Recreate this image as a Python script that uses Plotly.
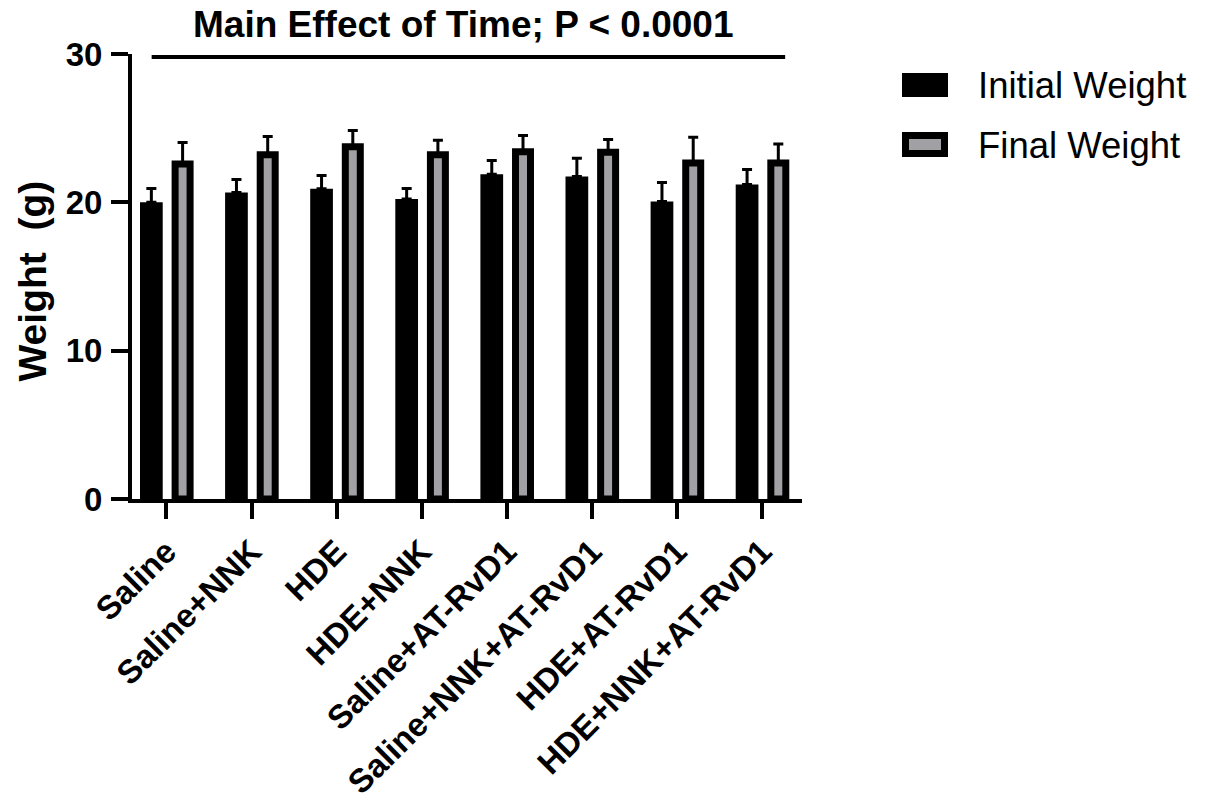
import plotly.graph_objects as go

categories = ["Saline", "Saline+NNK", "HDE", "HDE+NNK", "Saline+AT-RvD1",
              "Saline+NNK+AT-RvD1", "HDE+AT-RvD1", "HDE+NNK+AT-RvD1"]
initial_weight = [20.0, 20.67, 20.92, 20.22, 21.9, 21.74, 20.05, 21.2]
initial_err = [0.94, 0.87, 0.89, 0.72, 0.92, 1.23, 1.29, 1.01]
final_weight = [22.59, 23.21, 23.75, 23.21, 23.41, 23.37, 22.66, 22.66]
final_err = [1.44, 1.22, 1.10, 0.97, 1.09, 0.86, 1.72, 1.28]
y_ticks = [0, 10, 20, 30]
title_text = "Main Effect of Time; P < 0.0001"
legend_names = ["Initial Weight", "Final Weight"]

FONT = "Liberation Sans, Arial, sans-serif"
GRAY = "#A0A0A5"

# plot area in pixels
L, R, T, B = 132, 802, 54, 499
W, H = R - L, B - T


def px_x(p):
    return (p - L) / W


def px_y(p):
    return (B - p) / H


fig = go.Figure()
fig.add_trace(go.Bar(
    x=categories, y=initial_weight, name=legend_names[0],
    width=0.267, offset=-0.311,
    marker=dict(color="black", line=dict(width=0)),
    error_y=dict(type="data", array=initial_err, symmetric=False,
                 arrayminus=[0] * len(initial_err),
                 color="black", thickness=3, width=5),
    showlegend=False,
))
fig.add_trace(go.Bar(
    x=categories, y=final_weight, name=legend_names[1],
    width=0.176, offset=0.1016,
    marker=dict(color=GRAY, line=dict(width=7, color="black")),
    error_y=dict(type="data", array=final_err, symmetric=False,
                 arrayminus=[0] * len(final_err),
                 color="black", thickness=3, width=5),
    showlegend=False,
))

shapes = [
    # significance line under the title
    dict(type="line", xref="x", yref="y", x0=-0.174, x1=7.27, y0=29.8, y1=29.8,
         line=dict(color="black", width=4)),
    # legend swatches
    dict(type="rect", xref="paper", yref="paper",
         x0=px_x(902), x1=px_x(948), y0=px_y(97), y1=px_y(73),
         fillcolor="black", line=dict(width=0)),
    dict(type="rect", xref="paper", yref="paper",
         x0=px_x(905.5), x1=px_x(944.5), y0=px_y(153.5), y1=px_y(135.5),
         fillcolor=GRAY, line=dict(width=7, color="black")),
]

annotations = [
    dict(text=title_text, xref="paper", yref="paper", x=px_x(463), y=px_y(25),
         xanchor="center", yanchor="middle", showarrow=False,
         font=dict(family=FONT, size=37, color="black", weight="bold")),
    dict(text="Weight  (g)", xref="paper", yref="paper", x=px_x(31.5), y=px_y(281),
         xanchor="center", yanchor="middle", textangle=-90, showarrow=False,
         font=dict(family=FONT, size=39, color="black", weight="bold")),
    dict(text=legend_names[0], xref="paper", yref="paper", x=px_x(976), y=px_y(85),
         xanchor="left", yanchor="middle", showarrow=False,
         font=dict(family=FONT, size=36.5, color="black")),
    dict(text=legend_names[1], xref="paper", yref="paper", x=px_x(976), y=px_y(145),
         xanchor="left", yanchor="middle", showarrow=False,
         font=dict(family=FONT, size=36.5, color="black")),
]

fig.update_layout(
    width=1209, height=803,
    margin=dict(l=L, r=1209 - R, t=T, b=803 - B, pad=0, autoexpand=False),
    paper_bgcolor="white", plot_bgcolor="white",
    barmode="overlay",
    shapes=shapes, annotations=annotations,
    showlegend=False,
    xaxis=dict(
        type="category", range=[-0.405, 7.468], automargin=False,
        showline=True, linecolor="black", linewidth=4,
        ticks="outside", ticklen=16, tickwidth=4, tickcolor="black",
        tickangle=-45, showgrid=False, zeroline=False,
        tickfont=dict(family=FONT, size=33, color="black", weight="bold"),
    ),
    yaxis=dict(
        range=[0, 30], tickvals=y_ticks, ticktext=[str(v) for v in y_ticks],
        automargin=False,
        showline=True, linecolor="black", linewidth=4,
        ticks="outside", ticklen=17, tickwidth=4, tickcolor="black",
        showgrid=False, zeroline=False, ticklabelstandoff=2,
        tickfont=dict(family=FONT, size=33, color="black", weight="bold"),
    ),
)

fig.write_html("out.html")
